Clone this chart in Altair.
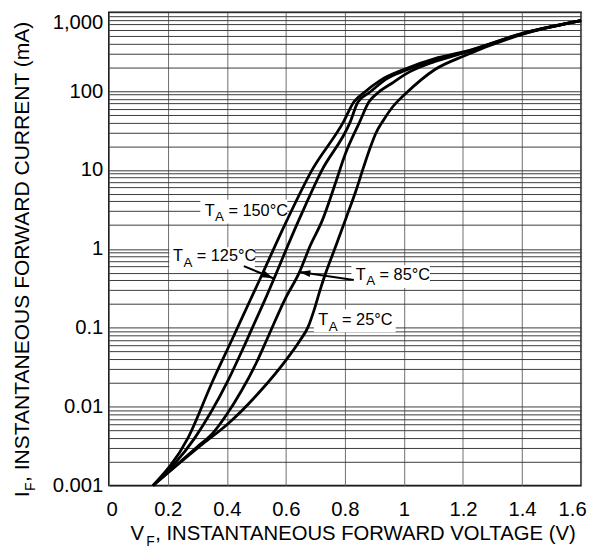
import altair as alt
import pandas as pd

FONT = "Liberation Sans"

# ---- curve data (V in volts, I in mA) ----
v_150 = [0.15, 0.268, 0.351, 0.418, 0.479, 0.512, 0.603, 0.686, 0.795, 0.830, 0.866, 0.920, 1.004, 1.105, 1.205, 1.406, 1.600]
i_150 = [0.001, 0.00399, 0.0207, 0.0715, 0.223, 0.412, 2.28, 9.62, 40.7, 72.6, 96.8, 137, 191, 258, 316, 546, 783]

v_125 = [0.15, 0.291, 0.402, 0.462, 0.529, 0.643, 0.720, 0.818, 0.844, 0.884, 0.944, 1.004, 1.105, 1.205, 1.406, 1.600]
i_125 = [0.001, 0.00399, 0.0207, 0.0625, 0.226, 2.28, 9.62, 40.7, 72.6, 96.8, 145, 182, 251, 311, 546, 783]

v_85 = [0.15, 0.300, 0.350, 0.400, 0.450, 0.500, 0.536, 0.596, 0.646, 0.683, 0.723, 0.770, 0.800, 0.850, 0.881, 0.914, 0.964, 1.004, 1.105, 1.205, 1.406, 1.600]
i_85 = [0.001, 0.0031, 0.0045, 0.0080, 0.0160, 0.036, 0.0715, 0.226, 0.508, 1.11, 2.28, 7.2, 15.5, 40.7, 72.6, 96.8, 129, 163, 237, 307, 538, 783]

v_25 = [0.15, 0.318, 0.402, 0.509, 0.603, 0.646, 0.676, 0.696, 0.716, 0.736, 0.770, 0.803, 0.837, 0.864, 0.887, 0.904, 0.931, 0.960, 0.990, 1.004, 1.105, 1.205, 1.406, 1.600]
i_25 = [0.001, 0.00336, 0.00598, 0.0151, 0.0401, 0.0675, 0.104, 0.170, 0.302, 0.508, 1.11, 2.41, 5.41, 11.1, 19.8, 28.8, 43.1, 62, 82, 92, 188, 281, 531, 783]

series_names = ["150", "125", "85", "25"]
series_v = [v_150, v_125, v_85, v_25]
series_i = [i_150, i_125, i_85, i_25]

# ---- annotation labels ----
label_text = ["= 150°C", "= 125°C", "= 85°C", "= 25°C"]
label_v = [0.325, 0.2176, 0.837, 0.710]      # left edge of the "T"
label_i = [2.63, 0.698, 0.404, 0.107]        # text baseline
box_v1 = [0.31, 0.205, 0.822, 0.695]
box_v2 = [0.605, 0.495, 1.088, 0.972]
box_i1 = [2.1, 0.55, 0.32, 0.088]
box_i2 = [4.2, 1.05, 0.62, 0.17]

# ---- arrows (from label to curve) ----
arrow_v1 = [0.4576, 0.830]
arrow_i1 = [0.604, 0.404]
arrow_v2 = [0.557, 0.646]
arrow_i2 = [0.424, 0.508]
arrow_angle = [113, 278]

x_ticks = [0, 0.2, 0.4, 0.6, 0.8, 1.0, 1.2, 1.4, 1.6]
y_grid = [round(k * 10.0 ** e, 6) for e in range(-3, 3) for k in range(1, 10)] + [1000]

# ---- tables ----
rows = []
for name, vs, cs in zip(series_names, series_v, series_i):
    for v, c in zip(vs, cs):
        rows.append({"T": name, "V": v, "I": c})
curve_df = pd.DataFrame(rows)

label_df = pd.DataFrame({"txt": label_text, "lv": label_v, "li": label_i,
                         "v1": box_v1, "v2": box_v2, "i1": box_i1, "i2": box_i2})
arrow_df = pd.DataFrame({"v1": arrow_v1, "i1": arrow_i1, "v2": arrow_v2,
                         "i2": arrow_i2, "ang": arrow_angle})
one = pd.DataFrame({"a": [0]})

# ---- scales & axes ----
x_scale = alt.Scale(domain=[0, 1.6], nice=False, zero=False)
y_scale = alt.Scale(type="log", domain=[0.001, 1000], nice=False)

x_axis = alt.Axis(
    values=x_ticks, title=None, grid=True, gridColor="#6e6e6e", gridWidth=1,
    domain=False, ticks=False, tickSize=0, labelPadding=14, labelFontSize=20.5,
    labelFont=FONT, labelColor="black", labelFlush=False, labelOverlap=False,
    labelExpr="format(datum.value, '~g')",
    labelOffset={"condition": [{"test": "datum.value <= 0", "value": 3},
                               {"test": "datum.value >= 1.6", "value": -9}],
                 "value": 0},
)
y_axis = alt.Axis(
    values=y_grid, title=None, grid=True, gridColor="#3a3a3a", gridWidth=1,
    domain=False, ticks=False, tickSize=0, labelPadding=6, labelFontSize=20.5,
    labelFont=FONT, labelColor="black", labelFlush=False, labelOverlap=False,
    labelExpr=("datum.value >= 1000 ? '1,000' : "
               "(abs(log(datum.value)/LN10 - round(log(datum.value)/LN10)) < 0.01 ? "
               "format(datum.value, '~g') : '')"),
    labelBaseline={"condition": {"test": "datum.value >= 1000", "value": "top"},
                   "value": "middle"},
)


def X(field):
    return alt.X(f"{field}:Q", scale=x_scale, axis=x_axis)


def Y(field):
    return alt.Y(f"{field}:Q", scale=y_scale, axis=y_axis)


boxes = alt.Chart(label_df).mark_rect(color="white").encode(
    x=X("v1"), x2="v2", y=Y("i1"), y2="i2")

curves = alt.Chart(curve_df).mark_line(
    color="black", strokeWidth=2.8, interpolate="monotone").encode(
    x=X("V"), y=Y("I"), detail="T:N")

arrow_lines = alt.Chart(arrow_df).mark_rule(color="black", strokeWidth=2).encode(
    x=X("v1"), x2="v2", y=Y("i1"), y2="i2")

arrow_heads = alt.Chart(arrow_df).mark_point(
    shape="M0,0L0.7,2.2L-0.7,2.2Z", filled=True, size=100, color="black",
    opacity=1, strokeWidth=0).encode(
    x=X("v2"), y=Y("i2"), angle=alt.Angle("ang:Q", scale=None))

lab_T = alt.Chart(label_df).mark_text(
    text="T", align="left", baseline="alphabetic", fontSize=16.5, font=FONT,
    color="black").encode(x=X("lv"), y=Y("li"))
lab_A = alt.Chart(label_df).mark_text(
    text="A", align="left", baseline="alphabetic", fontSize=13.5, font=FONT,
    color="black", dx=10.5, dy=5.5).encode(x=X("lv"), y=Y("li"))
lab_rest = alt.Chart(label_df).mark_text(
    align="left", baseline="alphabetic", fontSize=16.5, font=FONT,
    color="black", dx=24).encode(x=X("lv"), y=Y("li"), text="txt:N")

# ---- axis titles with subscripts ----
xt_main = alt.Chart(one).mark_text(
    text="V", align="left", baseline="alphabetic", fontSize=20.5, font=FONT,
    color="black").encode(x=alt.value(22), y=alt.value(534))
xt_sub = alt.Chart(one).mark_text(
    text="F", align="left", baseline="alphabetic", fontSize=14, font=FONT,
    color="black").encode(x=alt.value(38), y=alt.value(540))
xt_rest = alt.Chart(one).mark_text(
    text=", INSTANTANEOUS FORWARD VOLTAGE (V)", align="left",
    baseline="alphabetic", fontSize=20.5, font=FONT, color="black").encode(
    x=alt.value(47), y=alt.value(534))

yt_main = alt.Chart(one).mark_text(
    text="I", align="left", baseline="alphabetic", fontSize=21.3, font=FONT,
    color="black", angle=270).encode(x=alt.value(-81), y=alt.value(491))
yt_sub = alt.Chart(one).mark_text(
    text="F", align="left", baseline="alphabetic", fontSize=14, font=FONT,
    color="black", angle=270).encode(x=alt.value(-75), y=alt.value(484.5))
yt_rest = alt.Chart(one).mark_text(
    text=", INSTANTANEOUS FORWARD CURRENT (mA)", align="left",
    baseline="alphabetic", fontSize=21.3, font=FONT, color="black",
    angle=270).encode(x=alt.value(-81), y=alt.value(475.5))

chart = alt.layer(
    boxes, curves, arrow_lines, arrow_heads, lab_T, lab_A, lab_rest,
    xt_main, xt_sub, xt_rest, yt_main, yt_sub, yt_rest,
).properties(
    width=478, height=479,
    padding={"left": 102, "top": 1, "right": 6, "bottom": 63},
    autosize=alt.AutoSizeParams(type="none"),
    background="white",
).configure_view(stroke="black", strokeWidth=1.5)

chart.save("out.html", embed_options={"renderer": "svg", "actions": False})
